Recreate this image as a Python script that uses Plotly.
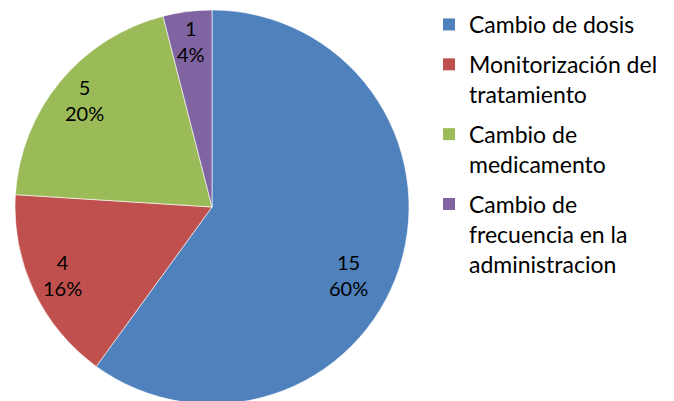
import math
import plotly.graph_objects as go

labels = ["Cambio de dosis", "Monitorización del tratamiento", "Cambio de medicamento", "Cambio de frecuencia en la administracion"]
legend_names = ["Cambio de dosis", "Monitorización del<br>tratamiento", "Cambio de<br>medicamento", "Cambio de<br>frecuencia en la<br>administracion"]
values = [15, 4, 5, 1]
colors = ["#4F81BD", "#C0504D", "#9BBB59", "#8064A2"]

W, H = 674, 401
# figure-pixel geometry (page body adds an 8px offset)
cx, cy, r = 204, 199, 197
FONT = "Lato"

fig = go.Figure()
fig.add_trace(go.Pie(
    labels=labels, values=values, sort=False, direction="clockwise", rotation=0,
    marker=dict(colors=colors, line=dict(color="rgba(255,255,255,0.6)", width=1)),
    textinfo="none", showlegend=False, hoverinfo="skip",
    domain=dict(x=[(cx - r) / W, (cx + r) / W], y=[(H - cy - r) / H, (H - cy + r) / H]),
))

# legend entries
for i, (name, col) in enumerate(zip(legend_names, colors)):
    fig.add_trace(go.Scatter(
        x=[None], y=[None], mode="markers", name=name,
        marker=dict(symbol="square", size=12, color=col),
        legendgroup=f"g{i}", showlegend=True,
    ))

# data labels placed along slice mid-angles (Excel style)
label_r = [0.78, 0.84, 0.84, 0.84]
label_da = [9, 0, 0, 0]  # degrees, best-fit nudge for big slice
total = sum(values)
cum = 0
for v, lr, da in zip(values, label_r, label_da):
    mid = (cum + v / 2) / total * 360 + da
    cum += v
    th = math.radians(mid)
    px = cx + lr * r * math.sin(th)
    py = cy - lr * r * math.cos(th) - 2
    fig.add_annotation(
        x=px / W, y=1 - py / H, xref="paper", yref="paper",
        xanchor="center", yanchor="middle",
        text=f"{v}<br>{round(v / total * 100)}%", showarrow=False,
        font=dict(family=FONT, size=20, color="#000000"), align="center",
    )

fig.update_layout(
    width=W, height=H, margin=dict(l=0, r=0, t=0, b=0, autoexpand=False),
    paper_bgcolor="white", plot_bgcolor="white",
    xaxis=dict(visible=False), yaxis=dict(visible=False),
    legend=dict(x=421 / W, y=1 + 5 / H, xanchor="left", yanchor="top",
                font=dict(family=FONT, size=23, color="#000000"),
                valign="top", bgcolor="rgba(0,0,0,0)", tracegroupgap=7,
                itemsizing="trace", maxheight=1),
)
fig.write_html("out.html")
